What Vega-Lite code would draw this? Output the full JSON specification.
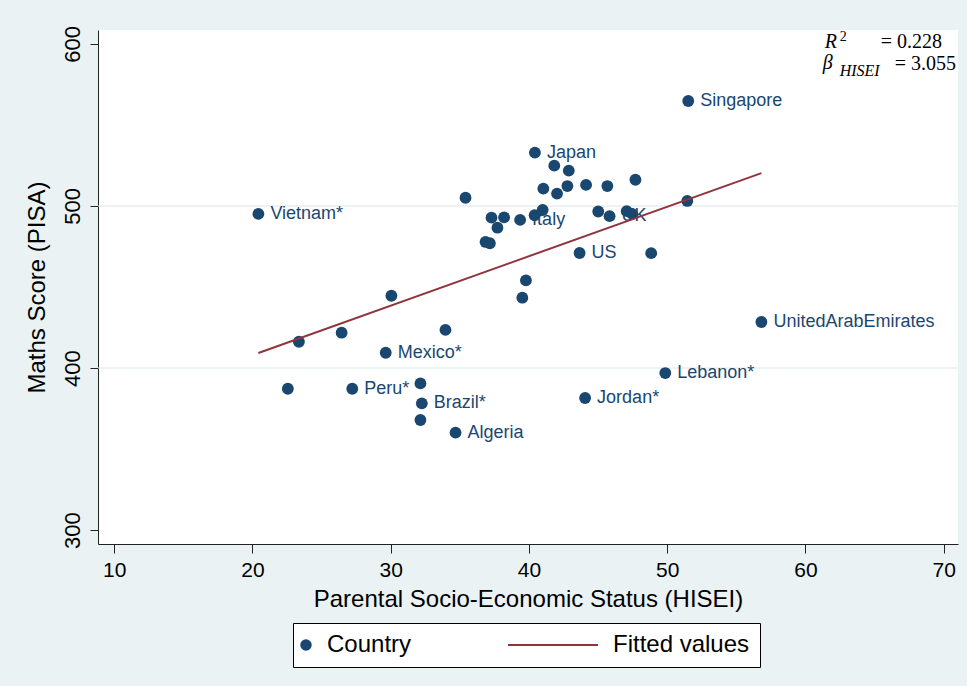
{
  "$schema": "https://vega.github.io/schema/vega-lite/v6.json",
  "width": 860,
  "height": 514,
  "autosize": {"type": "none"},
  "padding": {"left": 98, "top": 30, "right": 9, "bottom": 142},
  "background": "#eaf2f3",
  "config": {
    "view": {"fill": "white", "stroke": null},
    "font": "Liberation Sans",
    "axis": {
      "domainColor": "#222222",
      "tickColor": "#222222",
      "labelColor": "#000000",
      "titleColor": "#000000",
      "titleFontWeight": "normal",
      "labelFont": "Liberation Sans",
      "titleFont": "Liberation Sans",
      "grid": false
    }
  },
  "datasets": {
    "countries": [
      {"hisei": 20.43, "score": 495.1, "label": "Vietnam*", "series": "Country"},
      {"hisei": 51.52, "score": 564.8, "label": "Singapore", "series": "Country"},
      {"hisei": 40.43, "score": 532.9, "label": "Japan", "series": "Country"},
      {"hisei": 41.83, "score": 524.9, "label": "", "series": "Country"},
      {"hisei": 42.88, "score": 521.8, "label": "", "series": "Country"},
      {"hisei": 35.41, "score": 505.1, "label": "", "series": "Country"},
      {"hisei": 41.04, "score": 510.7, "label": "", "series": "Country"},
      {"hisei": 42.03, "score": 507.6, "label": "", "series": "Country"},
      {"hisei": 42.78, "score": 512.3, "label": "", "series": "Country"},
      {"hisei": 44.13, "score": 513.0, "label": "", "series": "Country"},
      {"hisei": 45.67, "score": 512.3, "label": "", "series": "Country"},
      {"hisei": 47.70, "score": 516.2, "label": "", "series": "Country"},
      {"hisei": 37.29, "score": 492.8, "label": "", "series": "Country"},
      {"hisei": 38.20, "score": 493.0, "label": "", "series": "Country"},
      {"hisei": 37.72, "score": 486.6, "label": "", "series": "Country"},
      {"hisei": 39.36, "score": 491.4, "label": "Italy", "series": "Country"},
      {"hisei": 40.41, "score": 494.3, "label": "", "series": "Country"},
      {"hisei": 40.99, "score": 497.5, "label": "", "series": "Country"},
      {"hisei": 36.86, "score": 477.8, "label": "", "series": "Country"},
      {"hisei": 37.17, "score": 477.0, "label": "", "series": "Country"},
      {"hisei": 45.01, "score": 496.6, "label": "", "series": "Country"},
      {"hisei": 45.83, "score": 493.7, "label": "UK", "series": "Country"},
      {"hisei": 47.07, "score": 496.8, "label": "", "series": "Country"},
      {"hisei": 47.46, "score": 495.1, "label": "", "series": "Country"},
      {"hisei": 43.66, "score": 471.0, "label": "US", "series": "Country"},
      {"hisei": 48.84, "score": 470.9, "label": "", "series": "Country"},
      {"hisei": 39.78, "score": 454.1, "label": "", "series": "Country"},
      {"hisei": 39.52, "score": 443.4, "label": "", "series": "Country"},
      {"hisei": 51.45, "score": 503.1, "label": "", "series": "Country"},
      {"hisei": 56.81, "score": 428.4, "label": "UnitedArabEmirates", "series": "Country"},
      {"hisei": 49.86, "score": 396.9, "label": "Lebanon*", "series": "Country"},
      {"hisei": 44.06, "score": 381.5, "label": "Jordan*", "series": "Country"},
      {"hisei": 30.05, "score": 444.6, "label": "", "series": "Country"},
      {"hisei": 23.36, "score": 416.2, "label": "", "series": "Country"},
      {"hisei": 26.45, "score": 421.8, "label": "", "series": "Country"},
      {"hisei": 33.96, "score": 423.5, "label": "", "series": "Country"},
      {"hisei": 29.64, "score": 409.4, "label": "Mexico*", "series": "Country"},
      {"hisei": 22.56, "score": 387.2, "label": "", "series": "Country"},
      {"hisei": 27.22, "score": 387.2, "label": "Peru*", "series": "Country"},
      {"hisei": 32.15, "score": 390.5, "label": "", "series": "Country"},
      {"hisei": 32.25, "score": 378.2, "label": "Brazil*", "series": "Country"},
      {"hisei": 32.15, "score": 367.9, "label": "", "series": "Country"},
      {"hisei": 34.69, "score": 360.1, "label": "Algeria", "series": "Country"}
    ],
    "fit": [
      {"hisei": 20.43, "score": 409.3, "series": "Fitted values"},
      {"hisei": 56.81, "score": 520.3, "series": "Fitted values"}
    ],
    "grid": [
      {"score": 400},
      {"score": 500}
    ],
    "note_main": [
      {"part": "= 0.228", "hisei": 65.44, "score": 600.93},
      {"part": "= 3.055", "hisei": 66.45, "score": 587.65}
    ],
    "note_italic": [
      {"part": "R", "hisei": 61.39, "score": 600.93},
      {"part": "β", "hisei": 61.24, "score": 588.27}
    ],
    "note_sub": [
      {"part": "HISEI", "hisei": 62.47, "score": 583.33}
    ],
    "note_sup": [
      {"part": "2", "hisei": 62.47, "score": 604.32}
    ]
  },
  "layer": [
    {
      "data": {"name": "grid"},
      "mark": {"type": "rule", "color": "#dce8ec", "strokeWidth": 1.2},
      "encoding": {
        "y": {"field": "score", "type": "quantitative", "scale": {"domain": [291.4, 608.6], "nice": false, "zero": false}}
      }
    },
    {
      "data": {"name": "countries"},
      "mark": {"type": "circle", "size": 140, "opacity": 1},
      "encoding": {
        "x": {
          "field": "hisei", "type": "quantitative",
          "scale": {"domain": [8.83, 71.03], "nice": false, "zero": false},
          "axis": {
            "values": [10, 20, 30, 40, 50, 60, 70],
            "title": "Parental Socio-Economic Status (HISEI)",
            "tickSize": 9,
            "labelFontSize": 21,
            "titleFontSize": 24,
            "labelPadding": 6,
            "titlePadding": 7
          }
        },
        "y": {
          "field": "score", "type": "quantitative",
          "scale": {"domain": [291.4, 608.6], "nice": false, "zero": false},
          "axis": {
            "values": [300, 400, 500, 600],
            "title": "Maths Score (PISA)",
            "tickSize": 8,
            "labelAngle": -90,
            "labelAlign": "center",
            "labelBaseline": "bottom",
            "labelFontSize": 22,
            "titleFontSize": 24,
            "labelPadding": 6,
            "titlePadding": 12
          }
        },
        "color": {
          "field": "series", "type": "nominal",
          "scale": {"domain": ["Country", "Fitted values"], "range": ["#1a476f", "#90353b"]},
          "legend": {
            "title": null,
            "orient": "none",
            "legendX": 195,
            "legendY": 593,
            "direction": "horizontal",
            "strokeColor": "#000000",
            "fillColor": "#ffffff",
            "padding": 10,
            "columnPadding": 92,
            "labelFontSize": 24,
            "labelColor": "#000000",
            "labelFont": "Liberation Sans",
            "symbolSize": 90,
            "encoding": {
              "symbols": {
                "shape": {"value": {"expr": "datum.value === 'Fitted values' ? 'stroke' : 'circle'"}},
                "size": {"value": {"expr": "datum.value === 'Fitted values' ? 8100 : 90"}},
                "stroke": {"value": {"expr": "datum.value === 'Fitted values' ? '#90353b' : 'transparent'"}},
                "strokeWidth": {"value": 2},
                "x": {"value": {"expr": "datum.value === 'Fitted values' ? 45 : 3"}}
              },
              "labels": {
                "x": {"value": {"expr": "datum.value === 'Fitted values' ? 105 : 24"}}
              }
            }
          }
        }
      }
    },
    {
      "data": {"name": "countries"},
      "transform": [{"filter": "datum.label !== ''"}],
      "mark": {"type": "text", "align": "left", "baseline": "middle", "dx": 12, "fontSize": 18, "color": "#1a476f", "font": "Liberation Sans"},
      "encoding": {
        "x": {"field": "hisei", "type": "quantitative", "scale": {"domain": [8.83, 71.03], "nice": false, "zero": false}},
        "y": {"field": "score", "type": "quantitative", "scale": {"domain": [291.4, 608.6], "nice": false, "zero": false}},
        "text": {"field": "label"}
      }
    },
    {
      "data": {"name": "fit"},
      "mark": {"type": "line", "strokeWidth": 2},
      "encoding": {
        "x": {"field": "hisei", "type": "quantitative", "scale": {"domain": [8.83, 71.03], "nice": false, "zero": false}},
        "y": {"field": "score", "type": "quantitative", "scale": {"domain": [291.4, 608.6], "nice": false, "zero": false}},
        "color": {"field": "series", "type": "nominal", "scale": {"domain": ["Country", "Fitted values"], "range": ["#1a476f", "#90353b"]}}
      }
    },
    {
      "data": {"name": "note_main"},
      "mark": {"type": "text", "align": "left", "baseline": "middle", "font": "Liberation Serif", "fontSize": 20, "color": "#000000"},
      "encoding": {
        "x": {"field": "hisei", "type": "quantitative", "scale": {"domain": [8.83, 71.03], "nice": false, "zero": false}},
        "y": {"field": "score", "type": "quantitative", "scale": {"domain": [291.4, 608.6], "nice": false, "zero": false}},
        "text": {"field": "part"}
      }
    },
    {
      "data": {"name": "note_italic"},
      "mark": {"type": "text", "align": "left", "baseline": "middle", "font": "Liberation Serif", "fontStyle": "italic", "fontSize": 20, "color": "#000000"},
      "encoding": {
        "x": {"field": "hisei", "type": "quantitative", "scale": {"domain": [8.83, 71.03], "nice": false, "zero": false}},
        "y": {"field": "score", "type": "quantitative", "scale": {"domain": [291.4, 608.6], "nice": false, "zero": false}},
        "text": {"field": "part"}
      }
    },
    {
      "data": {"name": "note_sub"},
      "mark": {"type": "text", "align": "left", "baseline": "middle", "font": "Liberation Serif", "fontStyle": "italic", "fontSize": 16, "color": "#000000"},
      "encoding": {
        "x": {"field": "hisei", "type": "quantitative", "scale": {"domain": [8.83, 71.03], "nice": false, "zero": false}},
        "y": {"field": "score", "type": "quantitative", "scale": {"domain": [291.4, 608.6], "nice": false, "zero": false}},
        "text": {"field": "part"}
      }
    },
    {
      "data": {"name": "note_sup"},
      "mark": {"type": "text", "align": "left", "baseline": "middle", "font": "Liberation Serif", "fontSize": 14, "color": "#000000"},
      "encoding": {
        "x": {"field": "hisei", "type": "quantitative", "scale": {"domain": [8.83, 71.03], "nice": false, "zero": false}},
        "y": {"field": "score", "type": "quantitative", "scale": {"domain": [291.4, 608.6], "nice": false, "zero": false}},
        "text": {"field": "part"}
      }
    }
  ]
}
